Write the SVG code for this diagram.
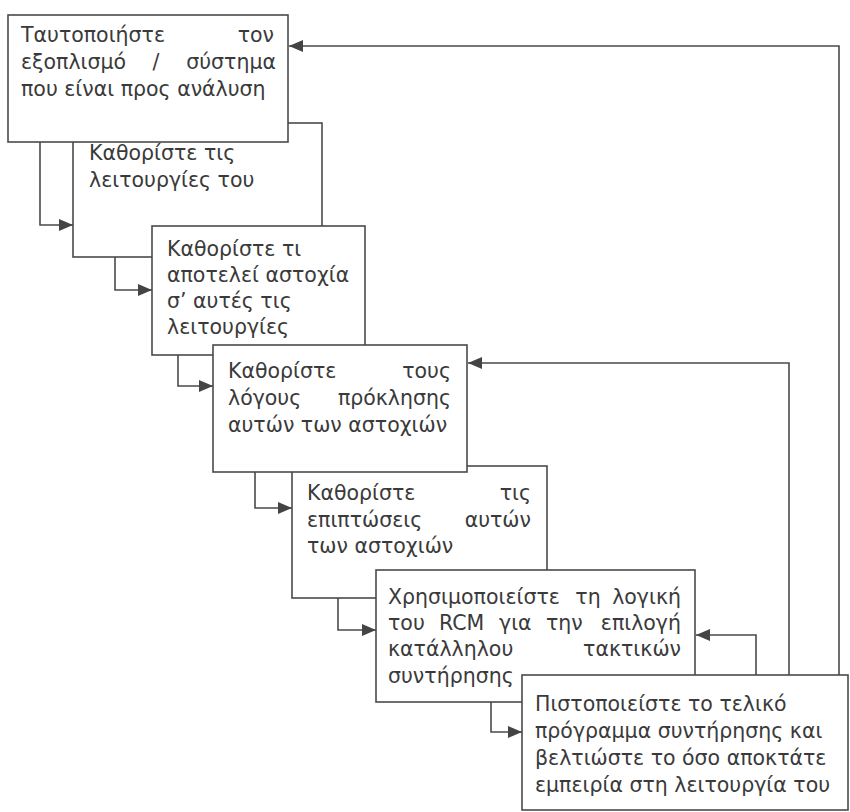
<svg xmlns="http://www.w3.org/2000/svg" width="850" height="812" viewBox="0 0 850 812">
<style>
  .box { fill: #ffffff; stroke: #4a4a4a; stroke-width: 1.6; }
  .t { font-family: "DejaVu Sans", "Liberation Sans", sans-serif; font-size: 20.5px; fill: #3a3a3a; }
  .e { text-anchor: end; }
  .m { text-anchor: middle; }
  .c { fill: none; stroke: #4a4a4a; stroke-width: 1.6; }
</style>
<defs>
  <marker id="arr" viewBox="0 0 14 12" refX="14" refY="6" markerWidth="14" markerHeight="12" markerUnits="userSpaceOnUse" orient="auto">
    <path d="M0,0 L14,6 L0,12 z" fill="#444444"/>
  </marker>
</defs>
<rect x="0" y="0" width="850" height="812" fill="#ffffff"/>

<g id="connectors">
  <path class="c" d="M40,142 V225 H73" marker-end="url(#arr)"/>
  <path class="c" d="M115,257 V290 H152" marker-end="url(#arr)"/>
  <path class="c" d="M178,355 V386 H213" marker-end="url(#arr)"/>
  <path class="c" d="M255,472 V508 H292" marker-end="url(#arr)"/>
  <path class="c" d="M338,598 V630 H376" marker-end="url(#arr)"/>
  <path class="c" d="M491,702 V732 H522" marker-end="url(#arr)"/>
  <path class="c" d="M839,676 V46 H289" marker-end="url(#arr)"/>
  <path class="c" d="M789,676 V363 H468" marker-end="url(#arr)"/>
  <path class="c" d="M756,676 V635 H696" marker-end="url(#arr)"/>
</g>

<g id="node2">
  <rect class="box" x="73" y="123" width="249" height="134"/>
  <text class="t" x="89" y="160">Καθορίστε τις</text>
  <text class="t" x="89" y="187">λειτουργίες του</text>
</g>

<g id="node1">
  <rect class="box" x="8" y="15" width="280" height="127"/>
  <text class="t" x="21" y="42">Ταυτοποιήστε</text>
  <text class="t e" x="274" y="42">τον</text>
  <text class="t" x="21" y="69">εξοπλισμό</text>
  <text class="t m" x="156" y="69">/</text>
  <text class="t e" x="276" y="69">σύστημα</text>
  <text class="t" x="21" y="96">που είναι προς ανάλυση</text>
</g>

<g id="node3">
  <rect class="box" x="152" y="226" width="213" height="129"/>
  <text class="t" x="167" y="256">Καθορίστε τι</text>
  <text class="t" x="167" y="282">αποτελεί αστοχία</text>
  <text class="t" x="167" y="308">σ’ αυτές τις</text>
  <text class="t" x="167" y="334">λειτουργίες</text>
</g>

<g id="node5">
  <rect class="box" x="292" y="466" width="255" height="132"/>
  <text class="t" x="307" y="500">Καθορίστε</text>
  <text class="t e" x="531" y="500">τις</text>
  <text class="t" x="307" y="527">επιπτώσεις</text>
  <text class="t e" x="531" y="527">αυτών</text>
  <text class="t" x="307" y="553">των αστοχιών</text>
</g>

<g id="node4">
  <rect class="box" x="213" y="345" width="254" height="127"/>
  <text class="t" x="228" y="378">Καθορίστε</text>
  <text class="t e" x="451" y="378">τους</text>
  <text class="t" x="228" y="405">λόγους</text>
  <text class="t e" x="451" y="405">πρόκλησης</text>
  <text class="t" x="228" y="432">αυτών των αστοχιών</text>
</g>

<g id="node6">
  <rect class="box" x="376" y="570" width="319" height="132"/>
  <text class="t" x="388" y="604">Χρησιμοποιείστε</text>
  <text class="t m" x="588" y="604">τη</text>
  <text class="t e" x="681" y="604">λογική</text>
  <text class="t" x="388" y="630">του</text>
  <text class="t" x="439" y="630">RCM</text>
  <text class="t" x="499" y="630">για</text>
  <text class="t" x="546" y="630">την</text>
  <text class="t e" x="681" y="630">επιλογή</text>
  <text class="t" x="388" y="656">κατάλληλου</text>
  <text class="t e" x="681" y="656">τακτικών</text>
  <text class="t" x="388" y="683">συντήρησης</text>
</g>

<g id="node7">
  <rect class="box" x="522" y="675" width="326" height="135"/>
  <text class="t" x="535" y="711">Πιστοποιείστε το τελικό</text>
  <text class="t" x="535" y="738">πρόγραμμα συντήρησης και</text>
  <text class="t" x="535" y="765">βελτιώστε το όσο αποκτάτε</text>
  <text class="t" x="535" y="792">εμπειρία στη λειτουργία του</text>
</g>
</svg>
